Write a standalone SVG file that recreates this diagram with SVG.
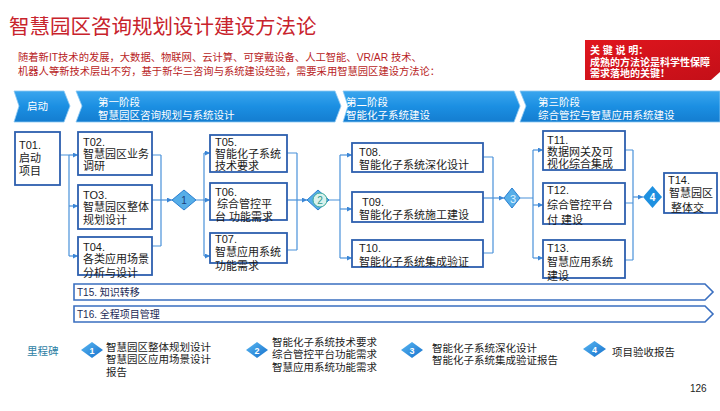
<svg xmlns="http://www.w3.org/2000/svg" width="720" height="411" viewBox="0 0 720 411">
<defs>
<linearGradient id="banner" x1="0" y1="0" x2="0" y2="1">
<stop offset="0" stop-color="#3aa6ee"/>
<stop offset="0.5" stop-color="#1b8fe2"/>
<stop offset="1" stop-color="#147dd0"/>
</linearGradient>
<linearGradient id="ms" x1="0" y1="0" x2="1" y2="1">
<stop offset="0" stop-color="#5ab8f2"/>
<stop offset="1" stop-color="#1570cc"/>
</linearGradient>
<linearGradient id="red" x1="0" y1="0" x2="1" y2="1">
<stop offset="0" stop-color="#e0161e"/>
<stop offset="1" stop-color="#c40f18"/>
</linearGradient>
<marker id="arr" viewBox="0 0 6 6" refX="6" refY="3" markerWidth="5" markerHeight="5" markerUnits="userSpaceOnUse" orient="auto">
<path d="M0,0 L6,3 L0,6 z" fill="#3b86d6"/>
</marker>
</defs>
<style>
text{font-family:"Liberation Sans","Noto Sans CJK SC",sans-serif;}
.box{fill:#fff;stroke:#2d5fae;stroke-width:1.8;}
.bt{font-size:11px;fill:#1a1a1a;}
.con{fill:none;stroke:#4a92da;stroke-width:1.2;}
.ph{fill:url(#banner);stroke:#8cc8f2;stroke-width:0.8;}
.pt{fill:#fff;font-size:10.5px;}
.bar{fill:#fff;stroke:#3a6fc0;stroke-width:1.6;}
.bart{font-size:10px;fill:#1b2a56;}
.mt{font-size:10.5px;fill:#1a1a1a;}
.mn{font-size:9px;fill:#fff;font-weight:bold;text-anchor:middle;}
</style>
<rect width="720" height="411" fill="#ffffff"/>

<g id="title">
<text x="9" y="34" font-size="20.5" fill="#c8232c" font-family="Noto Sans CJK SC, sans-serif">智慧园区咨询规划设计建设方法论</text>
<text x="18" y="61" font-size="10.3" fill="#b81d25">随着新IT技术的发展，大数据、物联网、云计算、可穿戴设备、人工智能、VR/AR 技术、</text>
<text x="18" y="75" font-size="10.3" fill="#b81d25">机器人等新技术层出不穷，基于新华三咨询与系统建设经验，需要采用智慧园区建设方法论：</text>
</g>

<g id="keynote">
<polygon points="585,40 720,40 720,72 711,80 585,80" fill="url(#red)"/>
<text x="590" y="54" font-size="10" fill="#fff" font-weight="bold">关 键 说 明：</text>
<text x="590" y="66" font-size="10" fill="#fff" font-weight="bold">成熟的方法论是科学性保障</text>
<text x="590" y="77" font-size="10" fill="#fff" font-weight="bold">需求落地的关键！</text>
</g>

<g id="phases">
<polygon class="ph" points="14,91 64,91 70,106 64,122 14,122 19,106"/>
<text class="pt" x="27" y="110" font-size="10.5">启动</text>
<polygon class="ph" points="76,91 335,91 341,106 335,122 76,122 82,106"/>
<text class="pt" x="98" y="106" font-size="10.5">第一阶段</text>
<text class="pt" x="98" y="119" font-size="9.8">智慧园区咨询规划与系统设计</text>
<polygon class="ph" points="343,91 514,91 520,106 514,122 343,122 348,106"/>
<text class="pt" x="346" y="106">第二阶段</text>
<text class="pt" x="346" y="119" font-size="10">智能化子系统建设</text>
<polygon class="ph" points="520,91 720,91 720,122 520,122 526,106"/>
<text class="pt" x="538" y="106">第三阶段</text>
<text class="pt" x="538" y="119">综合管控与智慧应用系统建设</text>
</g>

<g id="connectors">
<path class="con" d="M60,155 H69 M69,155 V256"/>
<path class="con" d="M69,155 H78" marker-end="url(#arr)"/>
<path class="con" d="M69,206 H78" marker-end="url(#arr)"/>
<path class="con" d="M69,256 H78" marker-end="url(#arr)"/>
<path class="con" d="M152,155 H161 M152,246 H161 M161,155 V246"/>
<path class="con" d="M152,200 H172" marker-end="url(#arr)"/>
<path class="con" d="M196,200 H204 M204,153 V256"/>
<path class="con" d="M204,153 H210" marker-end="url(#arr)"/>
<path class="con" d="M204,200 H210" marker-end="url(#arr)"/>
<path class="con" d="M204,256 H210" marker-end="url(#arr)"/>
<path class="con" d="M287,153 H297 M287,250 H297 M297,153 V250"/>
<path class="con" d="M287,200 H307" marker-end="url(#arr)"/>
<path class="con" d="M329,200 H340 M340,155 V258"/>
<path class="con" d="M340,155 H352" marker-end="url(#arr)"/>
<path class="con" d="M340,209 H352" marker-end="url(#arr)"/>
<path class="con" d="M340,258 H352" marker-end="url(#arr)"/>
<path class="con" d="M483,157 H493 M483,253 H493 M493,157 V253"/>
<path class="con" d="M483,198 H504" marker-end="url(#arr)"/>
<path class="con" d="M520,198 H533 M533,150 V258"/>
<path class="con" d="M533,150 H543" marker-end="url(#arr)"/>
<path class="con" d="M533,205 H543" marker-end="url(#arr)"/>
<path class="con" d="M533,258 H543" marker-end="url(#arr)"/>
<path class="con" d="M625,150 H633 M625,203 H633 M625,260 H633 M633,150 V260"/>
<path class="con" d="M633,197 H643" marker-end="url(#arr)"/>
</g>

<g id="T01"><rect class="box" x="15" y="132" width="45" height="53"/>
<text class="bt" x="19" y="149">T01.</text><text class="bt" x="19" y="162">启动</text><text class="bt" x="19" y="175">项目</text></g>
<g id="T02"><rect class="box" x="78" y="132" width="74" height="43"/>
<text class="bt" x="83" y="146">T02.</text><text class="bt" x="83" y="158">智慧园区业务</text><text class="bt" x="83" y="170">调研</text></g>
<g id="T03"><rect class="box" x="78" y="185" width="74" height="44"/>
<text class="bt" x="83" y="199">TO3.</text><text class="bt" x="83" y="211">智慧园区整体</text><text class="bt" x="83" y="224">规划设计</text></g>
<g id="T04"><rect class="box" x="78" y="237" width="74" height="38"/>
<text class="bt" x="83" y="251">T04.</text><text class="bt" x="83" y="263">各类应用场景</text><text class="bt" x="83" y="277">分析与设计</text></g>

<g id="D1"><polygon points="172,200 184,190 196,200 184,210" fill="#56aee8" stroke="#2a7fd0" stroke-width="1"/>
<text x="184" y="204" font-size="10" fill="#1c3f7a" text-anchor="middle" font-family="Liberation Serif, serif">1</text></g>

<g id="T05"><rect class="box" x="210" y="135" width="77" height="37"/>
<text class="bt" x="215" y="146">T05.</text><text class="bt" x="215" y="158">智能化子系统</text><text class="bt" x="215" y="170">技术要求</text></g>
<g id="T06"><rect class="box" x="210" y="183" width="77" height="37"/>
<text class="bt" x="215" y="196">T06.</text><text class="bt" x="217" y="208">综合管控平</text><text class="bt" x="215" y="221">台 功能需求</text></g>
<g id="T07"><rect class="box" x="210" y="233" width="77" height="30"/>
<text class="bt" x="215" y="243">T07.</text><text class="bt" x="215" y="256">智慧应用系统</text><text class="bt" x="215" y="270">功能需求</text></g>

<g id="D2"><polygon points="307,200 318,190 329,200 318,210" fill="#56aee8" stroke="#2a7fd0" stroke-width="1"/>
<circle cx="320" cy="200" r="7" fill="#d9f1ec" stroke="#3aa89a" stroke-width="1"/>
<text x="320" y="204" font-size="10" fill="#2f9a8c" text-anchor="middle">2</text></g>

<g id="T08"><rect class="box" x="352" y="143" width="131" height="29"/>
<text class="bt" x="359" y="156">T08.</text><text class="bt" x="359" y="169">智能化子系统深化设计</text></g>
<g id="T09"><rect class="box" x="352" y="192" width="131" height="30"/>
<text class="bt" x="362" y="206">T09.</text><text class="bt" x="359" y="219">智能化子系统施工建设</text></g>
<g id="T10"><rect class="box" x="352" y="240" width="131" height="27"/>
<text class="bt" x="359" y="252">T10.</text><text class="bt" x="359" y="266">智能化子系统集成验证</text></g>

<g id="D3"><polygon points="504,198 512,188 520,198 512,208" fill="#56aee8" stroke="#2a7fd0" stroke-width="1"/>
<text x="513" y="203" font-size="11" fill="#dff1ff" text-anchor="middle">3</text></g>

<g id="T11"><rect class="box" x="543" y="131" width="82" height="39"/>
<text class="bt" x="547" y="144">T11.</text><text class="bt" x="547" y="156">数据网关及可</text><text class="bt" x="547" y="168">视化综合集成</text></g>
<g id="T12"><rect class="box" x="543" y="183" width="82" height="41"/>
<text class="bt" x="547" y="194">T12.</text><text class="bt" x="547" y="209">综合管控平台</text><text class="bt" x="547" y="224">付 建设</text></g>
<g id="T13"><rect class="box" x="543" y="240" width="82" height="38"/>
<text class="bt" x="547" y="252">T13.</text><text class="bt" x="547" y="266">智慧应用系统</text><text class="bt" x="547" y="280">建设</text></g>

<g id="D4"><polygon points="643,197 652.5,186 662,197 652.5,208" fill="#1e90e0"/>
<text x="652.5" y="201" font-size="10" fill="#fff" text-anchor="middle" font-weight="bold">4</text></g>

<g id="T14"><rect class="box" x="664" y="173" width="53" height="40"/>
<text class="bt" x="668" y="184">T14.</text><text class="bt" x="669" y="197">智慧园区</text><text class="bt" x="671" y="212">整体交</text></g>

<g id="T15"><polygon class="bar" points="74,284 705,284 713,292 705,300 74,300"/>
<text class="bart" x="77" y="296">T15. 知识转移</text></g>
<g id="T16"><polygon class="bar" points="74,306 705,306 713,314 705,322 74,322"/>
<text class="bart" x="77" y="318">T16. 全程项目管理</text></g>

<g id="milestones">
<text x="27" y="355" font-size="10.5" fill="#2e7fa5">里程碑</text>
<g id="M1"><polygon points="81,350 92,342 103,350 92,358" fill="url(#ms)"/><text class="mn" x="92" y="353.5">1</text>
<text class="mt" x="106" y="351">智慧园区整体规划设计</text><text class="mt" x="106" y="363">智慧园区应用场景设计</text><text class="mt" x="106" y="376">报告</text></g>
<g id="M2"><polygon points="246,350 257,342 268,350 257,358" fill="url(#ms)"/><text class="mn" x="257" y="353.5">2</text>
<text class="mt" x="272" y="346">智能化子系统技术要求</text><text class="mt" x="272" y="358">综合管控平台功能需求</text><text class="mt" x="272" y="371">智慧应用系统功能需求</text></g>
<g id="M3"><polygon points="401,350 412,342 423,350 412,358" fill="url(#ms)"/><text class="mn" x="412" y="353.5">3</text>
<text class="mt" x="432" y="352">智能化子系统深化设计</text><text class="mt" x="432" y="364">智能化子系统集成验证报告</text></g>
<g id="M4"><polygon points="583,349 594.5,341 606,349 594.5,357" fill="url(#ms)"/><text class="mn" x="594.5" y="352.5">4</text>
<text class="mt" x="612" y="356">项目验收报告</text></g>
</g>

<text x="690" y="392" font-size="10" fill="#222" font-family="Liberation Serif, serif">126</text>
</svg>
